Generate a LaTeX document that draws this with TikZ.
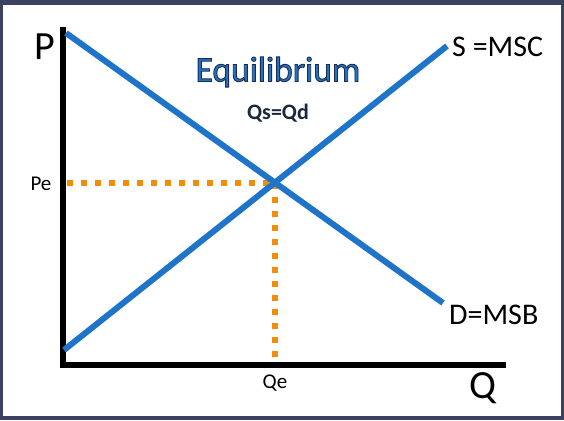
\documentclass[tikz,border=0pt]{standalone}
\usepackage{fontspec}
\setmainfont{Carlito}
\begin{document}
\begin{tikzpicture}[x=1pt,y=-1pt,
  axis/.style={line width=5.5pt,black},
  curve/.style={line width=6pt,color=curveblue},
  guide/.style={line width=5.5pt,color=dotorange,dash pattern=on 5.5pt off 8.5pt},
  lbl/.style={inner sep=0pt,font=\fontsize{30}{34}\selectfont},
  big/.style={inner sep=0pt,font=\fontsize{40}{44}\selectfont},
  small/.style={inner sep=0pt,font=\fontsize{21}{24}\selectfont}]
\definecolor{curveblue}{RGB}{30,116,200}
\definecolor{dotorange}{RGB}{240,142,12}
\definecolor{framec}{RGB}{58,66,96}
\useasboundingbox (0,0) rectangle (564,420);
\fill[framec] (0,0) rectangle (564,420);
\fill[white] (3,5) rectangle (561,416);
% axes
\coordinate (O) at (63,365);
\coordinate (Ytop) at (63,27);
\coordinate (Xend) at (506,365);
\draw[axis] (Ytop) -- (63,367.75);
\draw[axis] (60.25,365) -- (Xend);
% curves
\coordinate (Dtop) at (66,33);
\coordinate (Dbot) at (443,303);
\coordinate (Sbot) at (64,350);
\coordinate (Stop) at (447,46);
\coordinate (E) at (275,183);
\coordinate (Pe) at (67,183);
\coordinate (Qe) at (275,362);
\draw[guide] (Pe) -- (E);
\draw[guide] (E) -- (Qe);
\draw[curve] (Dtop) -- (Dbot);
\draw[curve] (Sbot) -- (Stop);
% labels
\node[big] (P) at (45,47) {P};
\node[big] (Q) at (483,388) {Q};
\node[small] (PeL) at (41,184) {Pe};
\node[small] (QeL) at (275,383) {Qe};
\node[lbl,anchor=west] (S) at (452,47) {S =MSC};
\node[lbl,anchor=west] (D) at (449,315) {D=MSB};
\node[inner sep=0pt,font=\fontsize{35.5}{40}\selectfont] (title) at (278,72)
  {\color{curveblue}\special{pdf:code 2 Tr 0.9 w 0.12 0.17 0.3 RG}Equilibrium\special{pdf:code 0 Tr}};
\node[inner sep=0pt,font=\bfseries\fontsize{22}{26}\selectfont,text={rgb,255:red,25;green,40;blue,60}] (eq) at (278,113) {Qs=Qd};
\end{tikzpicture}
\end{document}
